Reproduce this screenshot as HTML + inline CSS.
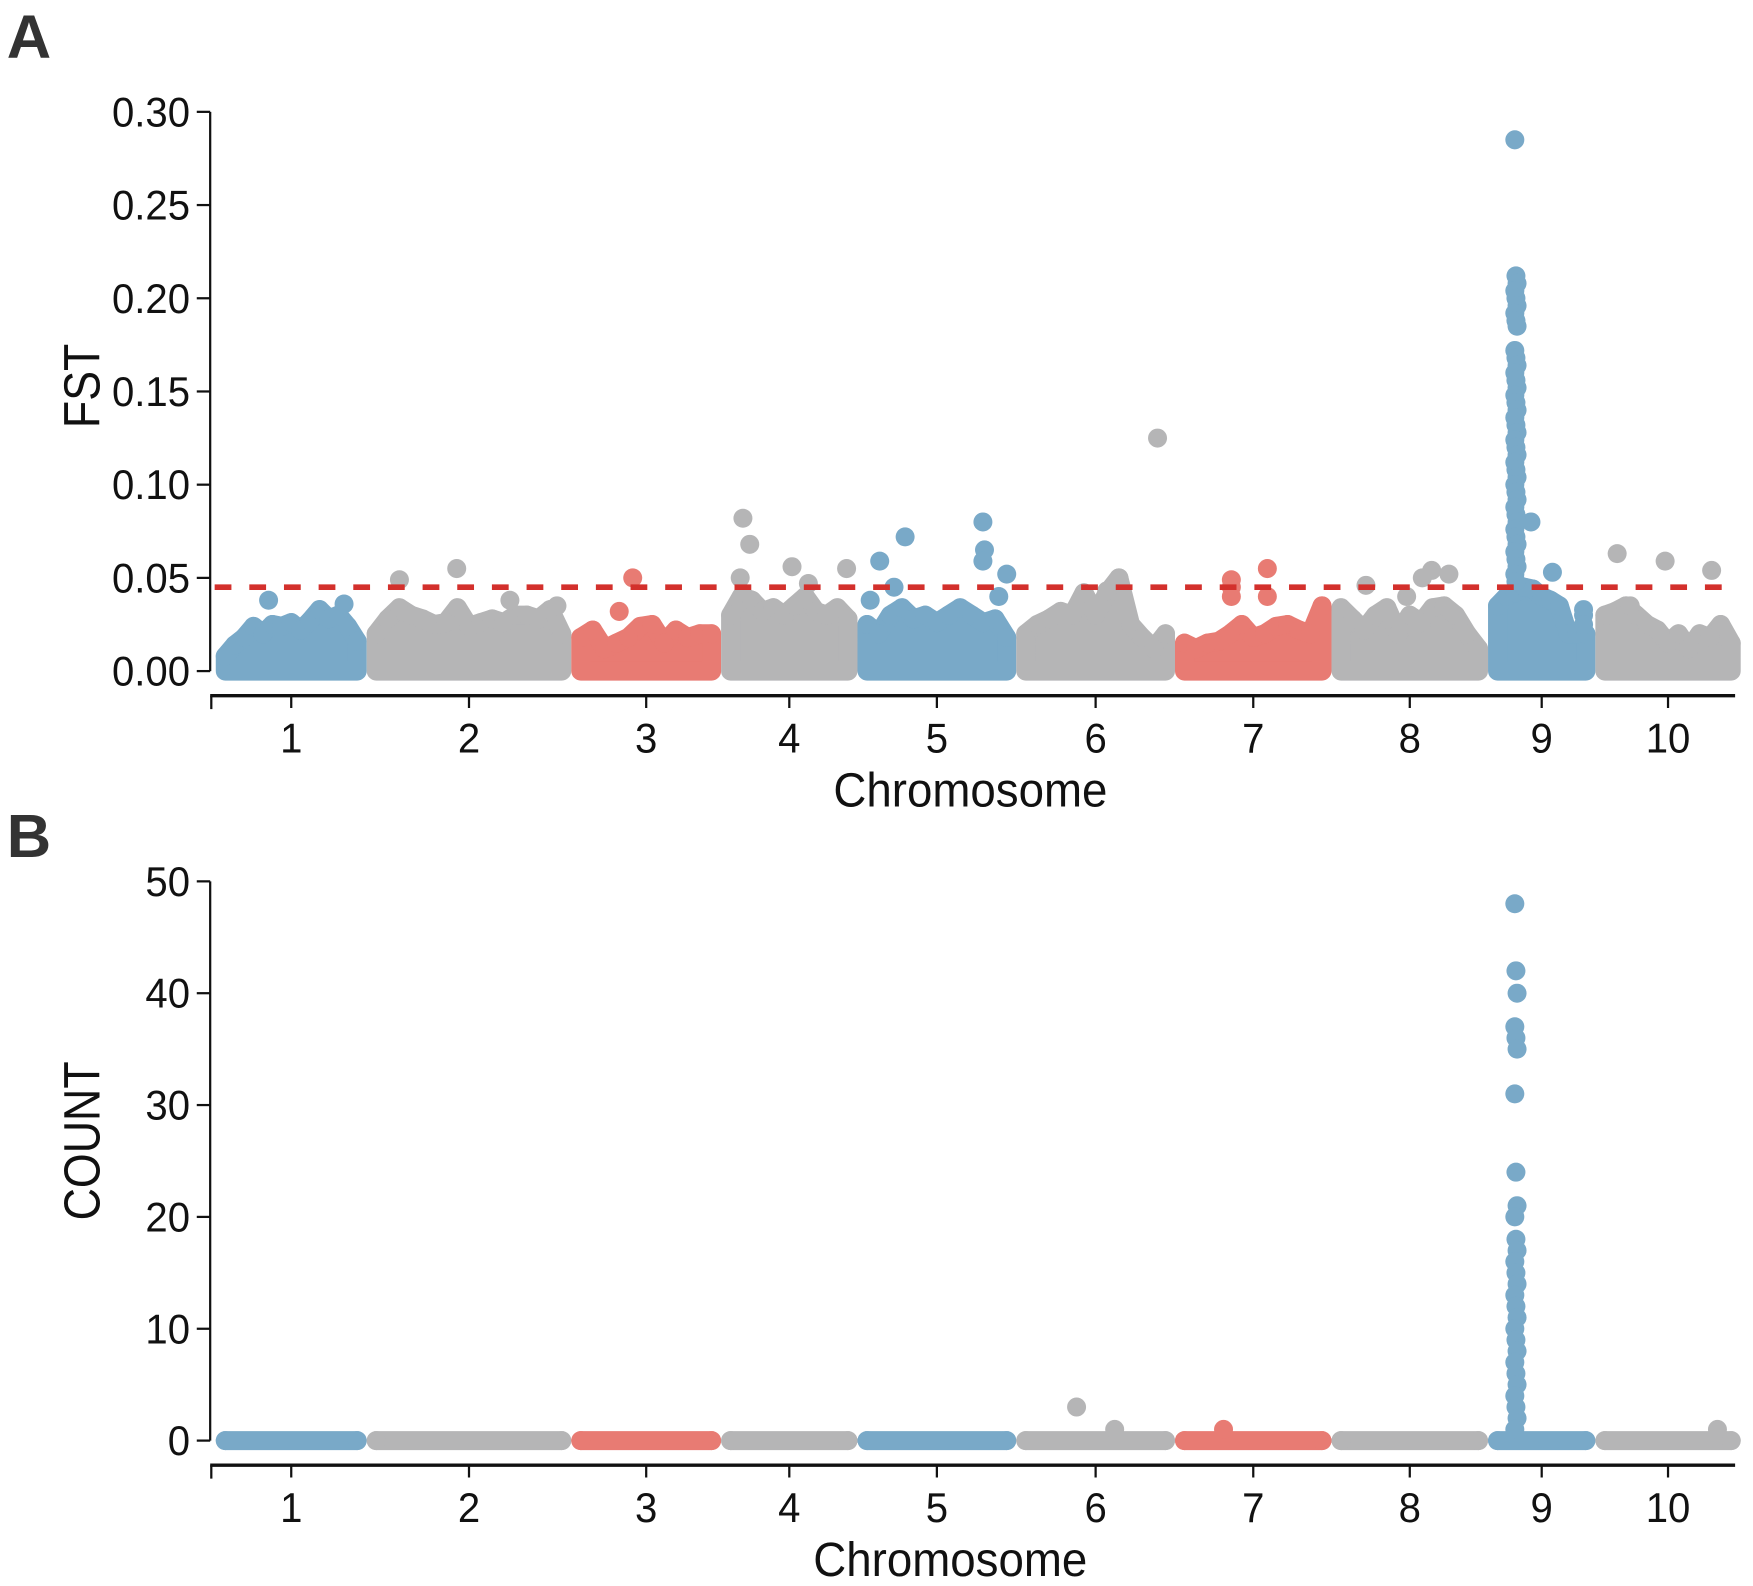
<!DOCTYPE html>
<html><head><meta charset="utf-8"><style>
html,body{margin:0;padding:0;background:#fff}
svg{display:block}
text{font-family:"Liberation Sans",Arial,sans-serif;fill:#111}
</style></head><body>
<svg id="chart" width="1753" height="1586" viewBox="0 0 1568 1418" preserveAspectRatio="none" xmlns="http://www.w3.org/2000/svg">
<text x="6" y="52" style="font-size:55px;font-weight:bold;fill:#333">A</text>
<text x="6" y="766" style="font-size:55px;font-weight:bold;fill:#333">B</text>
<g id="gA"></g>
<g id="gB"></g>
</svg>
<script>
const chromosomes = ["1","2","3","4","5","6","7","8","9","10"];
const chrLen = [135,183,134,122,142,142,140,140,96,130];
const chrColors = ["#79a9c8","#b5b5b6","#e87b73","#b5b5b6","#79a9c8","#b5b5b6","#e87b73","#b5b5b6","#79a9c8","#b5b5b6"];
const fstTicks = [0,0.05,0.10,0.15,0.20,0.25,0.30];
const fstTickLabels = ["0.00","0.05","0.10","0.15","0.20","0.25","0.30"];
const countTicks = [0,10,20,30,40,50];
const countTickLabels = ["0","10","20","30","40","50"];
const fstThreshold = 0.045;
const fstEnvelope = [
 [0.008,0.014,0.018,0.024,0.02,0.025,0.024,0.026,0.022,0.027,0.033,0.028,0.03,0.024,0.016],
 [0.02,0.028,0.034,0.03,0.028,0.025,0.026,0.034,0.024,0.026,0.028,0.026,0.03,0.03,0.028,0.033,0.02],
 [0.018,0.022,0.012,0.015,0.018,0.024,0.025,0.015,0.022,0.018,0.02,0.02],
 [0.03,0.04,0.038,0.032,0.034,0.03,0.035,0.04,0.032,0.03,0.034,0.028],
 [0.025,0.02,0.03,0.034,0.028,0.03,0.026,0.03,0.034,0.03,0.026,0.028,0.018],
 [0.02,0.025,0.028,0.032,0.03,0.042,0.03,0.042,0.05,0.025,0.018,0.012,0.02],
 [0.015,0.012,0.015,0.016,0.02,0.025,0.018,0.02,0.024,0.025,0.022,0.02,0.035],
 [0.034,0.028,0.022,0.03,0.034,0.02,0.03,0.026,0.034,0.035,0.03,0.02,0.012],
 [0.035,0.04,0.042,0.045,0.044,0.04,0.038,0.035,0.02,0.02,0.02],
 [0.03,0.032,0.035,0.03,0.025,0.022,0.015,0.02,0.012,0.02,0.018,0.025,0.015]
];
const fstOutChr = [0,0,1,1,1,1,2,2,3,3,3,3,3,3,4,4,4,4,4,4,4,4,4,5,5,6,6,6,6,6,7,7,7,7,7,8,8,8,8,8,9,9,9,9,9];
const fstOutPos = [0.35,0.85,0.16,0.44,0.70,0.93,0.41,0.32,0.16,0.21,0.14,0.52,0.92,0.64,0.14,0.30,0.23,0.08,0.79,0.80,0.79,0.94,0.89,0.57,0.89,0.36,0.36,0.36,0.59,0.59,0.22,0.64,0.75,0.58,0.48,0.40,0.60,0.89,0.89,0.89,0.15,0.48,0.8,0.24,0.08];
const fstOutVal = [0.038,0.036,0.049,0.055,0.038,0.035,0.050,0.032,0.082,0.068,0.050,0.056,0.055,0.047,0.059,0.072,0.045,0.038,0.080,0.065,0.059,0.052,0.040,0.043,0.125,0.049,0.045,0.040,0.055,0.040,0.046,0.054,0.052,0.050,0.040,0.080,0.053,0.033,0.030,0.025,0.063,0.059,0.054,0.035,0.030];
const fstPeakChr = 8;
const fstPeakPos = 0.26;
const fstPeakVals = [0.285,0.212,0.208,0.204,0.2,0.196,0.192,0.188,0.185,0.172,0.168,0.164,0.16,0.156,0.152,0.148,0.144,0.14,0.136,0.132,0.128,0.124,0.12,0.116,0.112,0.108,0.104,0.1,0.096,0.092,0.088,0.084,0.08,0.076,0.072,0.068,0.064,0.06,0.056,0.052,0.048];
const countOutChr = [5,5,6,9];
const countOutPos = [0.38,0.62,0.31,0.84];
const countOutVal = [3,1,1,1];
const countPeakChr = 8;
const countPeakPos = 0.26;
const countPeakVals = [48,42,40,37,36,35,31,24,21,20,18,17,16,15,14,13,12,11,10,9,8,7,6,5,4,3,2,1];

const NS="http://www.w3.org/2000/svg";
const X0=193, X1=1557, R=8.5;
const total=chrLen.reduce((a,b)=>a+b,0);
const starts=[];{let c=0;for(const l of chrLen){starts.push(c);c+=l;}}
function xPos(ci,frac){return X0+(starts[ci]+frac*chrLen[ci])/total*(X1-X0);}
function mk(tag,attrs,parent){const e=document.createElementNS(NS,tag);for(const k in attrs)e.setAttribute(k,attrs[k]);parent.appendChild(e);return e;}

function panel(g,cfg){
  const y=v=>cfg.yBase-(v-0)/cfg.yMax*500;
  let ax=mk('line',{x1:188,x2:188,y1:y(cfg.yMax),y2:y(0),stroke:'#111','stroke-width':2},g);
  
  cfg.ticks.forEach((t,i)=>{
    const l=mk('line',{x1:176,x2:188,y1:y(t),y2:y(t),stroke:'#111','stroke-width':2},g);
    
    const tx=mk('text',{x:0,y:0,'text-anchor':'end','font-size':37,transform:`translate(170,${y(t)+13}) scale(0.97,1)`},g);
    tx.textContent=cfg.tickLabels[i];
    
  });
  const yt=mk('text',{x:0,y:0,'text-anchor':'middle','font-size':46,transform:`translate(89,${cfg.titleY}) rotate(-90) scale(0.87,1)`},g);
  yt.textContent=cfg.title;
  
  const xa=cfg.yBase+22;
  const xl=mk('line',{x1:188,x2:1552,y1:xa,y2:xa,stroke:'#111','stroke-width':3},g);
  
  const lt=mk('line',{x1:189,x2:189,y1:xa,y2:xa+12,stroke:'#111','stroke-width':2},g);
  
  chromosomes.forEach((c,i)=>{
    const cx=xPos(i,0.5);
    const t=mk('line',{x1:cx,x2:cx,y1:xa,y2:xa+11,stroke:'#111','stroke-width':2},g);
    
    const tx=mk('text',{x:0,y:0,'text-anchor':'middle','font-size':37,transform:`translate(${cx},${xa+51}) scale(0.97,1)`},g);
    tx.textContent=c;
    
  });
  const xt=mk('text',{x:0,y:0,'text-anchor':'middle','font-size':43,transform:`translate(${cfg.xTitleX},${xa+99}) scale(0.95,1)`},g);
  xt.textContent='Chromosome';
  
  chromosomes.forEach((c,i)=>{
    const env=cfg.env?cfg.env[i]:[0,0];
    const x0=xPos(i,0)+R, x1=xPos(i,1)-R;
    let pts=[];
    env.forEach((v,k)=>{pts.push([x0+(x1-x0)*k/(env.length-1),y(v)]);});
    let d='M'+x0+','+y(0)+' '+pts.map(p=>'L'+p[0]+','+p[1]).join(' ')+' L'+x1+','+y(0)+' Z';
    const p=mk('path',{d:d,fill:chrColors[i],stroke:chrColors[i],'stroke-width':2*R,'stroke-linejoin':'round'},g);
    
    pts.forEach(pt=>{
      const ci=mk('circle',{cx:pt[0],cy:pt[1],r:R,fill:chrColors[i]},g);
      
    });
  });
  cfg.outChr.forEach((ci,k)=>{
    const e=mk('circle',{cx:xPos(ci,cfg.outPos[k]),cy:y(cfg.outVal[k]),r:R,fill:chrColors[ci]},g);
    
  });
  cfg.peakVals.forEach((v,k)=>{
    const e=mk('circle',{cx:xPos(cfg.peakChr,cfg.peakPos)+(k%3-1),cy:y(v),r:R,fill:chrColors[cfg.peakChr]},g);
    
  });
  if(cfg.threshold!==undefined){
    const th=mk('line',{x1:192,x2:1552,y1:y(cfg.threshold),y2:y(cfg.threshold),stroke:'#d3302c','stroke-width':5,'stroke-dasharray':'15 16'},g);
    
  }
}
panel(document.getElementById('gA'),{yBase:600,yMax:0.30,ticks:fstTicks,tickLabels:fstTickLabels,title:'FST',titleY:345,xTitleX:868,env:fstEnvelope,outChr:fstOutChr,outPos:fstOutPos,outVal:fstOutVal,peakChr:fstPeakChr,peakPos:fstPeakPos,peakVals:fstPeakVals,threshold:fstThreshold});
panel(document.getElementById('gB'),{yBase:1288,yMax:50,ticks:countTicks,tickLabels:countTickLabels,title:'COUNT',titleY:1020,xTitleX:850,env:null,outChr:countOutChr,outPos:countOutPos,outVal:countOutVal,peakChr:countPeakChr,peakPos:countPeakPos,peakVals:countPeakVals});
</script>
</body></html>
